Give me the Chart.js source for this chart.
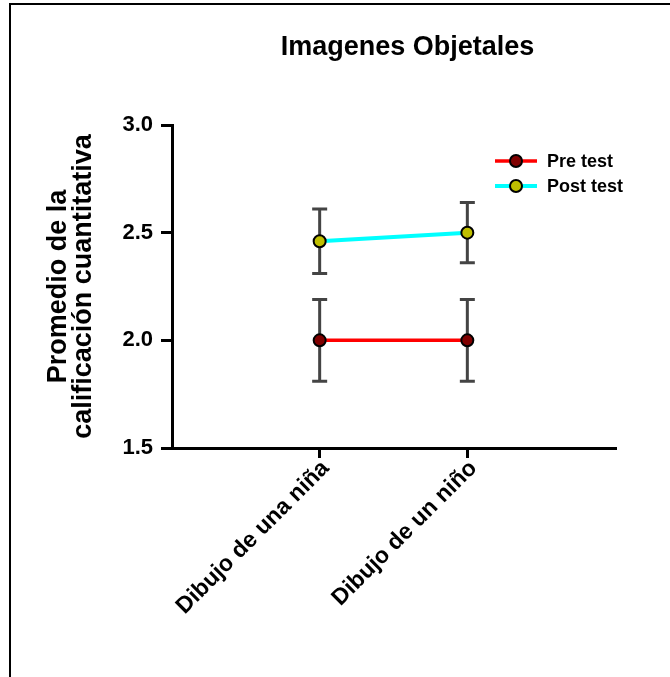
<!DOCTYPE html>
<html>
<head>
<meta charset="utf-8">
<script src="https://cdn.jsdelivr.net/npm/chart.js@4/dist/chart.umd.min.js"></script>
<style>
    html, body { margin: 0; padding: 0; background: #fff; }
    #frame {
        position: absolute; left: 9px; top: 3px; width: 700px; height: 700px;
        border-left: 2px solid #000; border-top: 2px solid #000;
    }
    #chart { position: absolute; left: 0; top: 0; }
</style>
</head>
<body>
<div id="frame"></div>
<canvas id="chart" width="670" height="677"></canvas>
<script>
// datos
const titleText = 'Imagenes Objetales';
const yTitle = ['Promedio de la', 'calificación cuantitativa'];
const categories = ['Dibujo de una niña', 'Dibujo de un niño'];
const seriesNames = ['Pre test', 'Post test'];
const preMeans = [2.00, 2.00];
const preErr = [0.19, 0.19];
const postMeans = [2.46, 2.50];
const postErr = [0.15, 0.14];
const yTickValues = [1.5, 2.0, 2.5, 3.0];

const FONT = '"Liberation Sans", Arial, sans-serif';

const toPoints = (vals) => vals.map((v, i) => ({ x: i + 1, y: v }));

// barras de error (detrás de las líneas y puntos)
const errorBars = {
    id: 'errorBars',
    beforeDatasetsDraw(chart) {
        const { ctx, scales: { y } } = chart;
        ctx.save();
        ctx.strokeStyle = '#444444';
        ctx.lineWidth = 3;
        chart.data.datasets.forEach((ds, i) => {
            const meta = chart.getDatasetMeta(i);
            meta.data.forEach((pt, j) => {
                const v = ds.data[j].y;
                const e = ds.errors[j];
                const top = y.getPixelForValue(v + e);
                const bot = y.getPixelForValue(v - e);
                ctx.beginPath();
                ctx.moveTo(pt.x, top);
                ctx.lineTo(pt.x, bot);
                ctx.moveTo(pt.x - 7.5, top);
                ctx.lineTo(pt.x + 7.5, top);
                ctx.moveTo(pt.x - 7.5, bot);
                ctx.lineTo(pt.x + 7.5, bot);
                ctx.stroke();
            });
        });
        ctx.restore();
    }
};

// título y leyenda propios
const decorations = {
    id: 'decorations',
    afterDraw(chart) {
        const { ctx, chartArea } = chart;
        ctx.save();
        ctx.fillStyle = '#000';
        ctx.font = 'bold 27px ' + FONT;
        ctx.textAlign = 'center';
        ctx.textBaseline = 'middle';
        ctx.fillText(titleText, (chartArea.left + chartArea.right) / 2 + 14, 48);

        chart.data.datasets.forEach((ds, i) => {
            const yy = chartArea.top + 36 + i * 25;
            const x0 = chartArea.right - 120;
            ctx.strokeStyle = ds.borderColor;
            ctx.lineWidth = ds.borderWidth;
            ctx.beginPath();
            ctx.moveTo(x0, yy);
            ctx.lineTo(x0 + 42, yy);
            ctx.stroke();
            ctx.beginPath();
            ctx.arc(x0 + 21, yy, 6, 0, Math.PI * 2);
            ctx.fillStyle = ds.pointBackgroundColor;
            ctx.fill();
            ctx.lineWidth = 2;
            ctx.strokeStyle = '#000';
            ctx.stroke();
            ctx.fillStyle = '#000';
            ctx.font = 'bold 18px ' + FONT;
            ctx.textAlign = 'left';
            ctx.fillText(ds.label, x0 + 52, yy + 1);
        });
        ctx.restore();
    }
};

new Chart(document.getElementById('chart'), {
    type: 'line',
    data: {
        datasets: [
            {
                label: seriesNames[0],
                data: toPoints(preMeans),
                errors: preErr,
                borderColor: '#ff0000',
                borderWidth: 3.5,
                pointRadius: 6,
                pointBorderWidth: 2,
                pointBorderColor: '#000',
                pointBackgroundColor: '#800000'
            },
            {
                label: seriesNames[1],
                data: toPoints(postMeans),
                errors: postErr,
                borderColor: '#00ffff',
                borderWidth: 4,
                pointRadius: 6,
                pointBorderWidth: 2,
                pointBorderColor: '#000',
                pointBackgroundColor: '#bfbf00'
            }
        ]
    },
    options: {
        responsive: false,
        animation: false,
        devicePixelRatio: 1,
        layout: { padding: { left: 0, top: 125, right: 55, bottom: 0 } },
        plugins: {
            legend: { display: false },
            title: { display: false },
            tooltip: { enabled: false }
        },
        scales: {
            x: {
                type: 'linear',
                min: 0,
                max: 3,
                afterBuildTicks: (scale) => {
                    scale.ticks = categories.map((c, i) => ({ value: i + 1 }));
                },
                afterFit: (scale) => { scale.height = 229; },
                grid: { drawOnChartArea: false, color: '#000', lineWidth: 3, tickLength: 10 },
                border: { color: '#000', width: 3 },
                ticks: {
                    autoSkip: false,
                    minRotation: 45,
                    maxRotation: 45,
                    padding: -3,
                    labelOffset: 6,
                    color: '#000',
                    font: { family: FONT, size: 23, weight: 'bold' },
                    callback: (v) => categories[v - 1]
                }
            },
            y: {
                min: 1.5,
                max: 3.0,
                afterBuildTicks: (scale) => {
                    scale.ticks = yTickValues.map(v => ({ value: v }));
                },
                afterFit: (scale) => { scale.width = 172; },
                grid: { drawOnChartArea: false, color: '#000', lineWidth: 3, tickLength: 11 },
                border: { color: '#000', width: 3 },
                ticks: {
                    padding: 8,
                    color: '#000',
                    font: { family: FONT, size: 22, weight: 'bold' },
                    callback: (v) => v.toFixed(1)
                },
                title: {
                    display: true,
                    text: yTitle,
                    color: '#000',
                    padding: { top: 46, bottom: 0 },
                    font: { family: FONT, size: 27, weight: 'bold', lineHeight: '25px' }
                }
            }
        }
    },
    plugins: [errorBars, decorations]
});
</script>
</body>
</html>
